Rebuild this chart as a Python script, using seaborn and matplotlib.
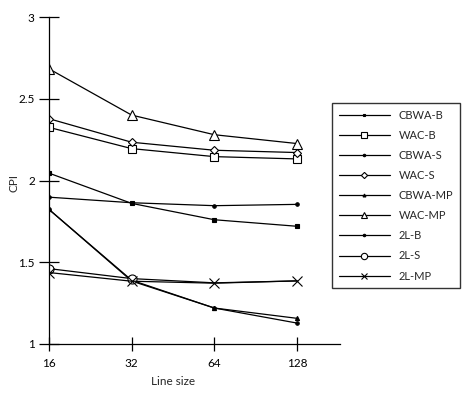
import matplotlib
matplotlib.use("Agg")
import matplotlib.pyplot as plt
import seaborn as sns
import pandas as pd

line_sizes = ["16", "32", "64", "128"]
series_names = ["CBWA-B", "WAC-B", "CBWA-S", "WAC-S", "CBWA-MP", "WAC-MP", "2L-B", "2L-S", "2L-MP"]
cbwa_b = [2.045, 1.860, 1.760, 1.720]
wac_b = [2.325, 2.195, 2.146, 2.132]
cbwa_s = [1.898, 1.864, 1.846, 1.854]
wac_s = [2.378, 2.234, 2.185, 2.171]
cbwa_mp = [1.823, 1.390, 1.220, 1.157]
wac_mp = [2.683, 2.400, 2.280, 2.226]
l2_b = [1.823, 1.385, 1.220, 1.128]
l2_s = [1.461, 1.400, 1.374, 1.386]
l2_mp = [1.437, 1.384, 1.372, 1.386]
y_ticks = [1, 1.5, 2, 2.5, 3]
y_tick_labels = ["1", "1.5", "2", "2.5", "3"]

values = [cbwa_b, wac_b, cbwa_s, wac_s, cbwa_mp, wac_mp, l2_b, l2_s, l2_mp]

styles = {
    "CBWA-B": dict(marker="s", markersize=3, markerfacecolor="black"),
    "WAC-B": dict(marker="s", markersize=5.5, markerfacecolor="white"),
    "CBWA-S": dict(marker="o", markersize=2.5, markerfacecolor="black"),
    "WAC-S": dict(marker="D", markersize=4.5, markerfacecolor="white"),
    "CBWA-MP": dict(marker="^", markersize=3, markerfacecolor="black"),
    "WAC-MP": dict(marker="^", markersize=6.5, markerfacecolor="white"),
    "2L-B": dict(marker="o", markersize=2.5, markerfacecolor="black"),
    "2L-S": dict(marker="o", markersize=6.5, markerfacecolor="white", markevery=[0, 1]),
    "2L-MP": dict(marker="x", markersize=6.5, markerfacecolor="black"),
}

sns.set_style("white")
plt.rcParams["font.family"] = ["Lato", "DejaVu Sans"]

fig = plt.figure(figsize=(4.66, 3.96), dpi=100)
ax = fig.add_axes([49 / 466, 1 - 344 / 396, (340 - 49) / 466, (344 - 17) / 396])

handles = []
for name, vals in zip(series_names, values):
    df = pd.DataFrame({"Line size": line_sizes, "CPI": vals})
    sns.lineplot(data=df, x="Line size", y="CPI", ax=ax, color="black",
                 linewidth=0.9, markeredgecolor="black", markeredgewidth=0.8,
                 sort=False, **styles[name])
    handles.append(ax.lines[-1])

ax.set_xlim(0, 3.52)
ax.set_ylim(1, 3)
ax.set_yticks(y_ticks)
ax.set_yticklabels(y_tick_labels)
ax.set_xticks(range(len(line_sizes)))
ax.set_xticklabels(line_sizes)

for s in ["top", "right"]:
    ax.spines[s].set_visible(False)
for s in ["left", "bottom"]:
    ax.spines[s].set_color("black")
    ax.spines[s].set_linewidth(0.9)

ax.tick_params(axis="y", left=True, direction="inout", length=14.5, width=0.9,
               labelsize=8.5, pad=3, colors="black")
ax.tick_params(axis="x", bottom=True, direction="inout", length=10, width=0.9,
               labelsize=8.5, pad=5, colors="black")

ax.set_ylabel("CPI", fontsize=8.5)
ax.yaxis.set_label_coords((20 - 49) / (340 - 49), (344 - 183) / (344 - 17))
ax.set_xlabel("Line size", fontsize=8.5)
ax.xaxis.set_label_coords((173 - 49) / (340 - 49), -(376 - 344) / (344 - 17))

leg = fig.legend(handles, series_names, loc="upper left",
                 bbox_to_anchor=(332 / 466, 1 - 103 / 396), frameon=True,
                 fancybox=False, edgecolor="black", fontsize=8,
                 handlelength=4.6, labelspacing=0.82, borderpad=0.6,
                 handletextpad=0.8, borderaxespad=0, markerscale=0.7)
leg.get_frame().set_linewidth(1.0)

fig.savefig("out.png", dpi=100, facecolor="white")
